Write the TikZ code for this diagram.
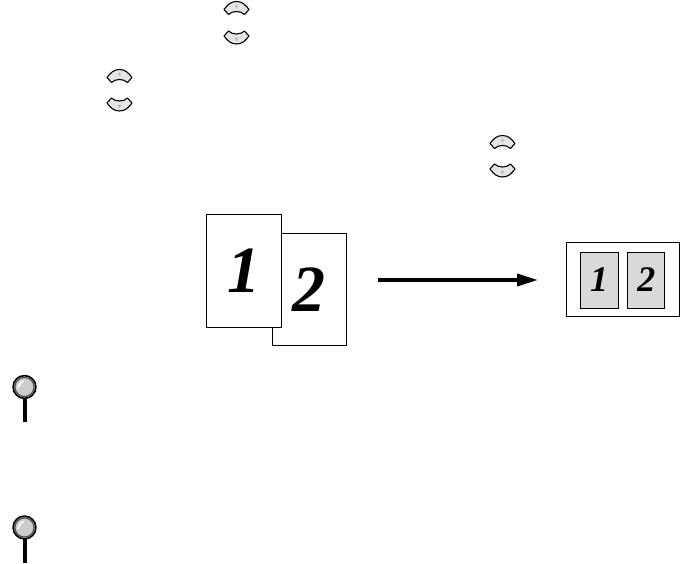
\documentclass[tikz,border=0pt]{standalone}
\usepackage{fontspec}
\setmainfont{Liberation Serif}
\usetikzlibrary{arrows.meta,positioning}
\tikzset{
  pagebox/.style  ={draw,line width=1pt,fill=white,inner sep=0pt,font=\fontsize{66}{66}\selectfont\bfseries\itshape},
  sheetbox/.style ={draw,line width=1pt,fill=white,inner sep=0pt},
  thumbbox/.style ={draw,line width=.8pt,fill=gray!30,inner sep=0pt,font=\fontsize{36}{36}\selectfont\bfseries\itshape},
  ar/.style       ={-{Triangle[length=21pt,width=12pt]},line width=3.6pt},
  btnup/.pic      ={\draw[line width=1.1pt,fill=gray!20,line join=round]
                     (-12.5,1.5) .. controls (-9,-3) and (-6,-6.5) .. (0,-6.5) .. controls (6,-6.5) and (9,-3) .. (12.5,1.5)
                     -- (8,6.5) .. controls (4,2.5) and (-4,2.5) .. (-8,6.5) -- cycle;
                   \fill[gray!60] (-1.5,-.5) -- (1.5,-.5) -- (0,-4) -- cycle;},
  btndown/.pic    ={\draw[line width=1.1pt,fill=gray!20,line join=round]
                     (-12.5,-1.5) .. controls (-9,3) and (-6,6.5) .. (0,6.5) .. controls (6,6.5) and (9,3) .. (12.5,-1.5)
                     -- (8,-6.5) .. controls (4,-2.5) and (-4,-2.5) .. (-8,-6.5) -- cycle;
                   \fill[gray!60] (-1.5,.5) -- (1.5,.5) -- (0,4) -- cycle;},
  lens/.pic       ={\fill[black] (-2,10) rectangle (2,35);
                    \draw[line width=1.6pt,fill=gray!40] (0,0) circle (11.4);
                    \draw[line width=1.2pt,gray!60!black] (0,0) circle (9.6);
                    \draw[white,line width=1.8pt] (-6,0) to[bend left=30] (-1,-6);
                    \fill[white] (-6.5,1) circle (.9);},
}
\begin{document}
\begin{tikzpicture}[x=1pt,y=-1pt]
\useasboundingbox (0,0) rectangle (681,564);
% buttons
\pic at (236.5,8) {btnup};
\pic at (236.5,37.5) {btndown};
\pic at (119.5,76) {btnup};
\pic at (119.5,104.5) {btndown};
\pic at (502.5,142) {btnup};
\pic at (502.5,170.5) {btndown};
% pages
\node[pagebox,minimum width=74pt,minimum height=112pt] (page2) at (309,289.5) {2};
\node[pagebox,minimum width=75pt,minimum height=113pt] (page1) at (243.5,271) {1};
\coordinate (arstart) at (378,280);
\coordinate (arend) at (538,280);
\draw[ar] (arstart)--(arend);
\node[sheetbox,minimum width=113pt,minimum height=74pt] (sheet) at (622.5,280) {};
\node[thumbbox,minimum width=38pt,minimum height=56pt] (thumb1) at (599,280) {1};
\node[thumbbox,minimum width=37pt,minimum height=56pt,right=9pt of thumb1] (thumb2) {2};
% tips
\pic at (24.5,387) {lens};
\pic at (24.5,527.5) {lens};
\end{tikzpicture}
\end{document}
